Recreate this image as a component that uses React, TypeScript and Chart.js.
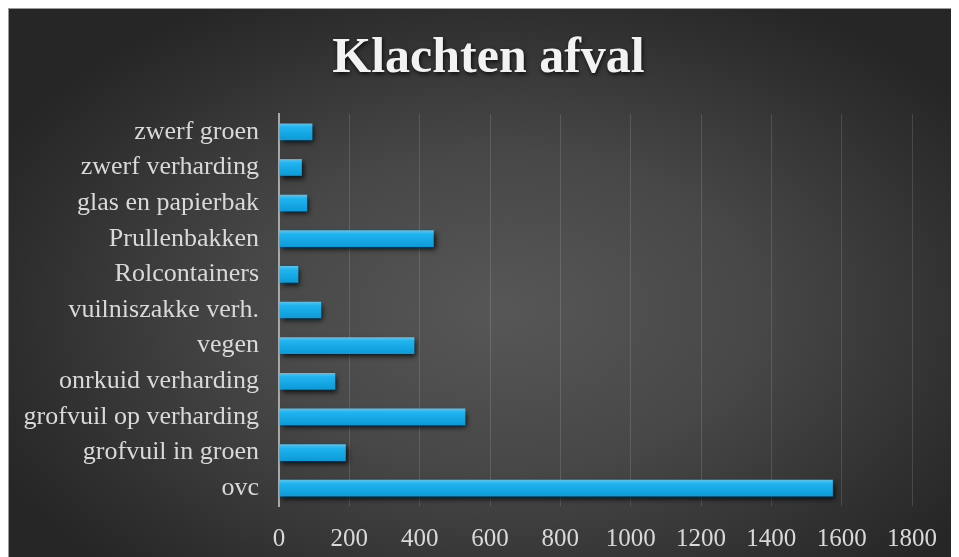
import React, { useEffect, useRef } from "react";
import { Chart, registerables } from "chart.js";

Chart.register(...registerables);

const TITLE = "Klachten afval";
const categories = [
  "ovc",
  "grofvuil in groen",
  "grofvuil op verharding",
  "onrkuid verharding",
  "vegen",
  "vuilniszakke verh.",
  "Rolcontainers",
  "Prullenbakken",
  "glas en papierbak",
  "zwerf verharding",
  "zwerf groen",
];
const values = [1575, 190, 530, 160, 385, 120, 55, 440, 80, 65, 95];
const xMin = 0;
const xMax = 1800;
const xStep = 200;

const FONT = "'Liberation Serif', 'Times New Roman', serif";

const titlePlugin = {
  id: "shadowTitle",
  afterDraw(chart: any) {
    const ctx = chart.ctx;
    ctx.save();
    ctx.font = `bold 50px ${FONT}`;
    ctx.fillStyle = "#f2f2f2";
    ctx.textAlign = "center";
    ctx.textBaseline = "middle";
    ctx.shadowColor = "rgba(0,0,0,0.8)";
    ctx.shadowBlur = 4;
    ctx.shadowOffsetX = 1;
    ctx.shadowOffsetY = 2;
    ctx.fillText(TITLE, chart.width / 2 + 5, 50);
    ctx.restore();
  },
};

const barShadowPlugin = {
  id: "barShadow",
  beforeDatasetsDraw(chart: any) {
    const ctx = chart.ctx;
    ctx.save();
    ctx.shadowColor = "rgba(0,0,0,0.75)";
    ctx.shadowBlur = 5;
    ctx.shadowOffsetX = 2;
    ctx.shadowOffsetY = 3;
  },
  afterDatasetsDraw(chart: any) {
    chart.ctx.restore();
  },
};

export default function App() {
  const ref = useRef<HTMLCanvasElement>(null);
  useEffect(() => {
    if (!ref.current) return;
    const chart = new Chart(ref.current, {
      type: "bar",
      data: {
        labels: categories,
        datasets: [
          {
            data: values,
            backgroundColor: (c: any) => {
              const ch = c.chart;
              const y = ch.scales?.y;
              if (!y || c.dataIndex === undefined) return "#1aaee8";
              const py = y.getPixelForValue(c.dataIndex);
              if (!Number.isFinite(py)) return "#1aaee8";
              const h = 9;
              const g = ch.ctx.createLinearGradient(0, py - h, 0, py + h);
              g.addColorStop(0, "#5ccaf4");
              g.addColorStop(0.25, "#1fb4f0");
              g.addColorStop(1, "#0b99d6");
              return g;
            },
            borderWidth: 0,
            categoryPercentage: 1,
            barPercentage: 0.47,
          },
        ],
      },
      options: {
        indexAxis: "y",
        animation: false,
        responsive: false,
        maintainAspectRatio: false,
        layout: { padding: { top: 105, right: 46, left: 0, bottom: 0 } },
        plugins: {
          legend: { display: false },
          title: { display: false },
          tooltip: { enabled: false },
        },
        scales: {
          x: {
            min: xMin,
            max: xMax,
            ticks: {
              stepSize: xStep,
              color: "#d9d9d9",
              font: { family: FONT, size: 25 },
              padding: 18,
              callback: (v: any) => String(v),
            },
            grid: {
              color: (c: any) =>
                c.tick && c.tick.value === 0 ? "#a8a8a8" : "rgba(255,255,255,0.13)",
              lineWidth: (c: any) => (c.tick && c.tick.value === 0 ? 2 : 1),
              drawTicks: false,
            },
            border: { display: false },
            afterFit: (s: any) => {
              s.height = 51;
            },
          },
          y: {
            reverse: true,
            ticks: {
              color: "#d9d9d9",
              font: { family: FONT, size: 26 },
              padding: 20,
            },
            grid: { display: false, drawTicks: false },
            border: { display: true, color: "#a8a8a8", width: 2 },
            afterFit: (s: any) => {
              s.width = 270;
            },
          },
        },
      },
      plugins: [titlePlugin, barShadowPlugin],
    });
    return () => chart.destroy();
  }, []);

  return (
    <div
      style={{
        width: 951,
        height: 549,
        boxSizing: "border-box",
        borderTop: "1px solid #9a9a9a",
        borderLeft: "1px solid #9a9a9a",
        borderRight: "1px solid #9a9a9a",
        background:
          "radial-gradient(ellipse 60% 65% at 52% 55%, #575757 0%, #474747 45%, #2e2e2e 85%, #262626 100%)",
        position: "relative",
        overflow: "hidden",
      }}
    >
      <canvas
        ref={ref}
        width={949}
        height={548}
        style={{ display: "block", width: 949, height: 548 }}
      />
    </div>
  );
}
